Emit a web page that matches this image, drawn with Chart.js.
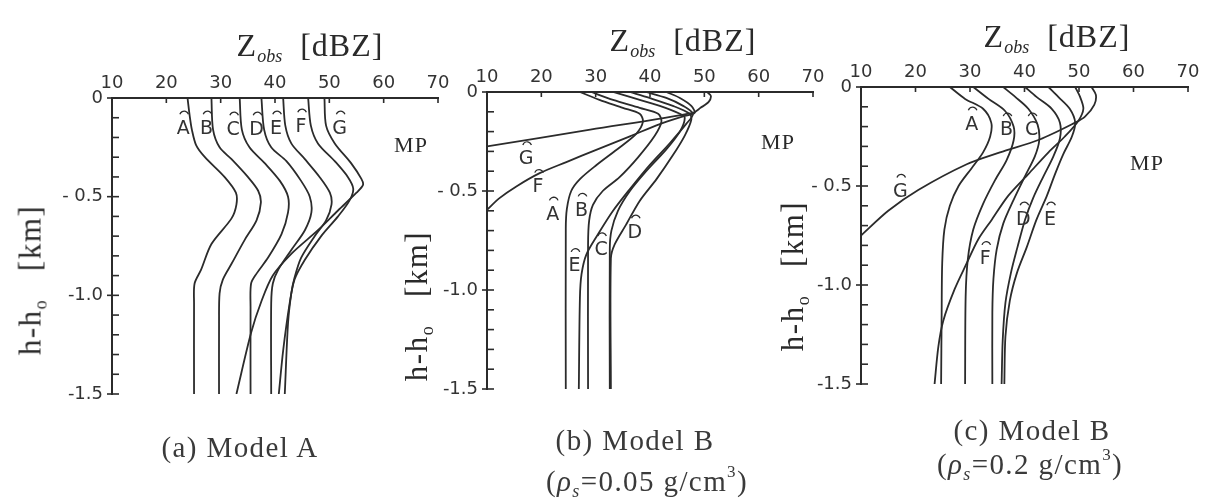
<!DOCTYPE html>
<html><head><meta charset="utf-8">
<script src="https://cdn.jsdelivr.net/npm/chart.js@4.4.1/dist/chart.umd.min.js"></script>
<style>
html,body{margin:0;padding:0;background:#fff;}
body{position:relative;width:1205px;height:498px;overflow:hidden;}
canvas{position:absolute;left:0;top:0;}
.t{position:absolute;transform:translate(-50%,-50%);font-family:"Liberation Serif","DejaVu Serif",serif;color:#2a2a2a;white-space:nowrap;line-height:1;}
.ttl{font-size:32px;letter-spacing:1px;}
.ttl .s{font-size:18px;font-style:italic;position:relative;top:6px;letter-spacing:0;}
.cap{font-size:29px;color:#3a3a3a;letter-spacing:1.4px;}
.cap .s{font-size:18px;font-style:italic;position:relative;top:6px;}
.cap sup{font-size:17px;position:relative;top:-3px;}
.mp{font-size:22px;letter-spacing:1px;}
.yl{font-size:31px;letter-spacing:1.5px;transform:translate(-50%,-50%) rotate(-90deg);}
.yl .s{font-size:18px;position:relative;top:6px;}
</style></head><body>
<canvas id="ca" width="1205" height="498"></canvas>
<canvas id="cb" width="1205" height="498"></canvas>
<canvas id="cc" width="1205" height="498"></canvas>

<div class="t ttl" style="left:310px;top:45px">Z<span class="s">obs</span>&nbsp;&nbsp;[dBZ]</div>
<div class="t ttl" style="left:683px;top:40px">Z<span class="s">obs</span>&nbsp;&nbsp;[dBZ]</div>
<div class="t ttl" style="left:1057px;top:36px">Z<span class="s">obs</span>&nbsp;&nbsp;[dBZ]</div>

<div class="t yl" style="left:30px;top:280px">h-h<span class="s">o</span>&nbsp;&nbsp;&nbsp;[km]</div>
<div class="t yl" style="left:416px;top:306px">h-h<span class="s">o</span>&nbsp;&nbsp;&nbsp;[km]</div>
<div class="t yl" style="left:792px;top:276px">h-h<span class="s">o</span>&nbsp;&nbsp;&nbsp;[km]</div>

<div class="t mp" style="left:411px;top:145px">MP</div>
<div class="t mp" style="left:778px;top:142px">MP</div>
<div class="t mp" style="left:1147px;top:163px">MP</div>

<div class="t cap" style="left:240px;top:447px">(a) Model A</div>
<div class="t cap" style="left:635px;top:440px">(b) Model B</div>
<div class="t cap" style="left:647px;top:481px">(<i>ρ</i><span class="s">s</span>=0.05 g/cm<sup>3</sup>)</div>
<div class="t cap" style="left:1032px;top:430px">(c) Model B</div>
<div class="t cap" style="left:1030px;top:464px">(<i>ρ</i><span class="s">s</span>=0.2 g/cm<sup>3</sup>)</div>

<script>
// ---------- axis ticks ----------
const xTickVals = [10, 20, 30, 40, 50, 60, 70];
const yTickVals = [0, -0.5, -1.0, -1.5];
const yTickText = ['0', '- 0.5', '-1.0', '-1.5'];
const yMinorTicks = [0, -0.1, -0.2, -0.3, -0.4, -0.5, -0.6, -0.7, -0.8, -0.9, -1.0, -1.1, -1.2, -1.3, -1.4, -1.5];
const curveNames = ['A', 'B', 'C', 'D', 'E', 'F', 'G'];

// ---------- (a) Model A : [Zobs dBZ, h-ho km] ----------
const a_A = [[23.9,0],[24.3,-0.09],[24.7,-0.16],[25.5,-0.24],[27.1,-0.30],[30.7,-0.40],[32.8,-0.48],[32.9,-0.54],[32.0,-0.61],[28.3,-0.74],[26.4,-0.87],[25.2,-0.94],[25.1,-1.04],[25.1,-1.5]];
const a_B = [[28.3,0],[28.6,-0.16],[29.8,-0.25],[32.0,-0.31],[35.0,-0.40],[36.9,-0.47],[37.4,-0.53],[36.6,-0.62],[34.4,-0.72],[32.0,-0.84],[30.4,-0.92],[29.8,-0.99],[29.7,-1.14],[29.7,-1.5]];
const a_C = [[33.5,0],[33.9,-0.16],[35.3,-0.25],[38.1,-0.33],[40.9,-0.42],[42.4,-0.50],[42.4,-0.58],[41.2,-0.69],[38.7,-0.81],[36.6,-0.89],[35.6,-0.94],[35.5,-1.06],[35.5,-1.5]];
const a_D = [[37.5,0],[38.0,-0.16],[39.3,-0.25],[42.1,-0.32],[44.8,-0.42],[46.4,-0.50],[46.7,-0.58],[45.5,-0.67],[43.0,-0.77],[40.6,-0.87],[39.6,-0.94],[39.3,-1.04],[39.3,-1.5]];
const a_E = [[41.5,0],[41.9,-0.14],[43.0,-0.23],[45.5,-0.31],[48.2,-0.40],[50.1,-0.48],[50.4,-0.54],[49.4,-0.62],[47.3,-0.70],[44.8,-0.81],[43.6,-0.91],[43.0,-0.99],[42.4,-1.14],[41.8,-1.5]];
const a_F = [[46.1,0],[46.6,-0.14],[47.9,-0.23],[51.0,-0.32],[53.4,-0.40],[54.4,-0.46],[53.7,-0.52],[51.6,-0.60],[48.5,-0.70],[45.5,-0.82],[43.6,-0.92],[42.7,-1.04],[41.5,-1.28],[40.7,-1.5]];
const a_G = [[49.1,0],[49.4,-0.14],[51.0,-0.23],[54.0,-0.33],[55.9,-0.41],[56.2,-0.44],[55.0,-0.48],[51.6,-0.57],[47.9,-0.67],[43.0,-0.79],[39.6,-0.90],[37.5,-1.03],[35.6,-1.19],[32.9,-1.5]];
const a_letters = [['A',23.1,-0.155],['B',27.4,-0.155],['C',32.3,-0.16],['D',36.6,-0.16],['E',40.2,-0.155],['F',44.8,-0.145],['G',51.9,-0.155]];

// ---------- (b) Model B, rho_s = 0.05 ----------
const b_A = [[27.1,0],[30.7,-0.04],[35.0,-0.08],[38.1,-0.11],[38.7,-0.15],[37.5,-0.21],[34.4,-0.28],[30.1,-0.37],[27.1,-0.44],[25.5,-0.50],[24.7,-0.59],[24.5,-0.69],[24.5,-1.5]];
const b_B = [[29.2,0],[33.2,-0.04],[38.1,-0.08],[41.5,-0.11],[42.1,-0.15],[40.9,-0.22],[37.8,-0.33],[34.4,-0.43],[31.3,-0.50],[29.5,-0.57],[28.8,-0.65],[28.6,-0.77],[28.6,-1.5]];
const b_C = [[33.2,0],[36.9,-0.03],[41.8,-0.07],[45.5,-0.11],[46.4,-0.13],[45.5,-0.20],[43.0,-0.29],[39.3,-0.40],[36.3,-0.50],[34.1,-0.60],[32.9,-0.70],[32.6,-0.79],[32.6,-1.5]];
const b_D = [[36.3,0],[39.9,-0.03],[44.2,-0.07],[47.3,-0.11],[47.6,-0.14],[46.4,-0.22],[44.2,-0.32],[41.2,-0.44],[38.1,-0.55],[35.6,-0.67],[33.5,-0.77],[32.8,-0.84],[32.8,-1.5]];
const b_E = [[39.3,0],[43.0,-0.03],[46.1,-0.07],[47.9,-0.11],[46.7,-0.16],[43.6,-0.26],[39.9,-0.37],[36.3,-0.49],[33.2,-0.60],[30.4,-0.72],[28.3,-0.82],[27.4,-0.92],[27.1,-1.04],[26.9,-1.5]];
const b_F = [[43.0,0],[45.5,-0.03],[47.6,-0.07],[48.2,-0.106],[46.1,-0.123],[41.8,-0.162],[36.3,-0.224],[30.1,-0.292],[24.6,-0.354],[19.7,-0.41],[15.4,-0.477],[12.3,-0.536],[10,-0.595]];
const b_G = [[50.5,0],[51.2,-0.02],[50.8,-0.05],[49.3,-0.08],[47.9,-0.105],[29.0,-0.19],[10,-0.275]];
const b_letters = [['G',17.2,-0.34],['F',19.4,-0.48],['A',22.1,-0.62],['B',27.4,-0.60],['C',31.0,-0.80],['D',37.2,-0.71],['E',26.1,-0.88]];

// ---------- (c) Model B, rho_s = 0.2 ----------
const c_A = [[26.3,0],[29.1,-0.06],[32.4,-0.11],[33.9,-0.18],[33.7,-0.25],[32.4,-0.33],[30.3,-0.41],[27.9,-0.50],[26.3,-0.60],[25.3,-0.72],[24.9,-0.89],[24.8,-1.14],[24.7,-1.5]];
const c_B = [[30.6,0],[33.4,-0.06],[36.4,-0.12],[38.0,-0.20],[38.0,-0.27],[36.7,-0.37],[34.6,-0.47],[32.4,-0.59],[30.6,-0.72],[29.6,-0.87],[29.2,-1.06],[29.1,-1.5]];
const c_C = [[36.1,0],[38.3,-0.05],[40.7,-0.11],[42.4,-0.19],[42.7,-0.27],[41.9,-0.35],[40.1,-0.45],[38.0,-0.57],[36.1,-0.69],[34.9,-0.82],[34.3,-0.97],[34.1,-1.14],[34.1,-1.5]];
const c_D = [[40.1,0],[42.2,-0.05],[45.0,-0.11],[46.5,-0.18],[46.5,-0.26],[45.3,-0.35],[43.5,-0.45],[41.6,-0.56],[40.1,-0.67],[38.7,-0.81],[37.5,-0.94],[36.5,-1.09],[36.0,-1.28],[35.8,-1.5]];
const c_E = [[44.4,0],[46.2,-0.05],[48.3,-0.11],[49.3,-0.18],[48.7,-0.25],[47.1,-0.34],[45.6,-0.44],[44.1,-0.55],[42.2,-0.67],[40.4,-0.81],[38.6,-0.94],[37.3,-1.08],[36.5,-1.26],[36.3,-1.5]];
const c_F = [[49.3,0],[50.2,-0.05],[50.8,-0.11],[49.9,-0.17],[47.4,-0.25],[44.4,-0.33],[40.7,-0.44],[37.0,-0.55],[34.0,-0.67],[31.5,-0.77],[29.4,-0.89],[27.2,-1.02],[25.1,-1.18],[24.2,-1.31],[23.5,-1.5]];
const c_G = [[52.3,0],[53.1,-0.04],[52.8,-0.09],[51.1,-0.15],[49.3,-0.18],[42.8,-0.265],[35.5,-0.33],[29.4,-0.39],[20.5,-0.52],[15.0,-0.625],[10,-0.75]];
const c_letters = [['A',30.3,-0.19],['B',36.7,-0.22],['C',41.3,-0.22],['G',17.2,-0.53],['D',39.8,-0.67],['E',44.7,-0.67],['F',32.8,-0.87]];

// ---------- drawing ----------
const INK = '#2b2b2b';
const YW = 50, XH = 30;
const TICKFONT = {family: '"DejaVu Sans", "Liberation Sans", sans-serif', size: 18};

const decor = {
  id: 'letters',
  afterDraw(chart, args, opts) {
    const {ctx, scales: {x, y}} = chart;
    ctx.save();
    ctx.strokeStyle = INK; ctx.lineWidth = 1.6; ctx.lineCap = 'butt';
    yMinorTicks.forEach((v, i) => {
      const py = y.getPixelForValue(v);
      const major = (i % 5 === 0);
      ctx.beginPath();
      ctx.moveTo(x.left - (major ? 5 : 0), py);
      ctx.lineTo(x.left + 7, py);
      ctx.stroke();
    });
    xTickVals.forEach(v => {
      const px = x.getPixelForValue(v);
      ctx.beginPath(); ctx.moveTo(px, y.top); ctx.lineTo(px, y.top + 5); ctx.stroke();
    });
    ctx.fillStyle = '#333';
    ctx.font = '19px "DejaVu Sans", sans-serif';
    ctx.textAlign = 'center'; ctx.textBaseline = 'middle';
    ctx.lineWidth = 1.3;
    (opts.items || []).forEach(([t, zv, hv]) => {
      const px = x.getPixelForValue(zv), py = y.getPixelForValue(hv);
      ctx.fillText(t, px, py);
      ctx.beginPath();
      ctx.arc(px + 1, py - 13, 4.5, Math.PI * 1.1, Math.PI * 1.9);
      ctx.stroke();
    });
    ctx.restore();
  }
};

function makePanel(id, area, curves, letters) {
  const ctx = document.getElementById(id).getContext('2d');
  return new Chart(ctx, {
    type: 'line',
    data: {
      datasets: curves.map((c, i) => ({
        label: curveNames[i],
        data: c.map(p => ({x: p[0], y: p[1]})),
        borderColor: INK, borderWidth: 1.8, pointRadius: 0, tension: 0.3, fill: false
      }))
    },
    options: {
      responsive: false, animation: false, events: [],
      layout: {padding: {left: area.left - YW, top: area.top - XH, right: 1205 - area.right, bottom: 498 - area.bottom}},
      plugins: {legend: {display: false}, tooltip: {enabled: false}, letters: {items: letters}},
      scales: {
        x: {
          type: 'linear', position: 'top', min: 10, max: 70,
          afterBuildTicks: s => { s.ticks = xTickVals.map(v => ({value: v})); },
          afterFit: s => { s.height = XH; s.paddingLeft = 0; s.paddingRight = 0; },
          ticks: {autoSkip: false, maxRotation: 0, minRotation: 0, padding: 4, color: '#333', font: TICKFONT},
          grid: {display: false, drawTicks: false},
          border: {display: true, color: INK, width: 2}
        },
        y: {
          type: 'linear', position: 'left', min: -1.5, max: 0,
          afterBuildTicks: s => { s.ticks = yTickVals.map(v => ({value: v})); },
          afterFit: s => { s.width = YW; s.paddingTop = 0; s.paddingBottom = 0; },
          ticks: {autoSkip: false, padding: 9, color: '#333', font: TICKFONT,
                  callback: v => yTickText[yTickVals.indexOf(v)]},
          grid: {display: false, drawTicks: false},
          border: {display: true, color: INK, width: 2}
        }
      }
    },
    plugins: [decor]
  });
}

makePanel('ca', {left: 112, top: 98, right: 438, bottom: 394}, [a_A, a_B, a_C, a_D, a_E, a_F, a_G], a_letters);
makePanel('cb', {left: 487, top: 92, right: 813, bottom: 389}, [b_A, b_B, b_C, b_D, b_E, b_F, b_G], b_letters);
makePanel('cc', {left: 861, top: 87, right: 1188, bottom: 384}, [c_A, c_B, c_C, c_D, c_E, c_F, c_G], c_letters);
</script>
</body></html>
